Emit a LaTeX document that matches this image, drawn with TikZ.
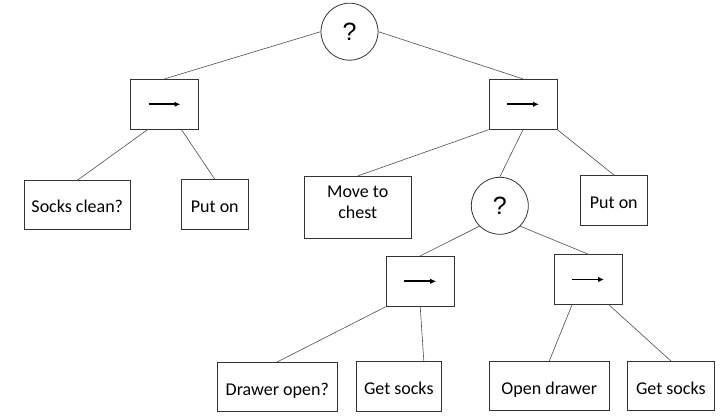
\documentclass[tikz,border=0pt]{standalone}
\usepackage{fontspec}
\usepackage{tikz}
\usetikzlibrary{arrows.meta}
\setmainfont{Carlito}
\newfontfamily\qfont{Liberation Sans}

\begin{document}
\begin{tikzpicture}[x=1pt, y=-1pt, font=\fontsize{18}{20.3}\selectfont,
    leaf/.style={draw=black!80, line width=0.8pt, inner sep=0pt, text height=16pt, text depth=0pt},
    seqbox/.style={leaf, minimum width=68pt, minimum height=50pt},
    fallback/.style={draw=black!80, line width=0.8pt, circle, inner sep=0pt, minimum size=57pt, font=\qfont\fontsize{25}{28}\selectfont},
    edge/.style={draw=black!70, line width=0.6pt},
    seqarrow/.style={line width=1.8pt, -{Latex[length=6pt, width=5.5pt]}}]
    \useasboundingbox (0, 0) rectangle (725, 419);

    \node (root) [fallback] at (349.5, 31.7) {?};
    \node (seqL) [seqbox] at (164.5, 104.3) {};
    \node (seqR) [seqbox] at (523, 104.3) {};

    \node (clean) [leaf, minimum width=106pt, minimum height=48.6pt] at (77.3, 205) {Socks clean?};
    \node (puton) [leaf, minimum width=67pt, minimum height=49.3pt] at (214.8, 204.3) {Put on};
    \node (chest) [leaf, align=center, text height=22.2pt, minimum width=106.7pt, minimum height=61.7pt] at (357.7, 207.2) {Move to\\chest};
    \node (fb) [fallback] at (499.8, 205.8) {?};
    \node (putonR) [leaf, minimum width=67pt, minimum height=50pt] at (613.8, 200.3) {Put on};

    \node (seqA) [seqbox] at (420.2, 281.3) {};
    \node (seqB) [seqbox] at (588, 279.5) {};

    \node (open) [leaf, minimum width=120pt, minimum height=49.4pt] at (277.3, 387) {Drawer open?};
    \node (getA) [leaf, minimum width=85.7pt, minimum height=50.3pt] at (398.8, 386.2) {Get socks};
    \node (opendr) [leaf, minimum width=120pt, minimum height=49.4pt] at (549.3, 386) {Open drawer};
    \node (getB) [leaf, minimum width=87pt, minimum height=49.4pt] at (670.8, 386) {Get socks};

    % sequence arrows
    \foreach \n in {seqL, seqR, seqA, seqB}
        \draw[seqarrow] ([xshift=-16pt]\n.center) -- ([xshift=16pt]\n.center);

    \draw[edge] (root.west) -- (seqL.north);
    \draw[edge] (root.east) -- (seqR.north);
    \draw[edge] ([xshift=-17pt]seqL.south) -- (clean.north);
    \draw[edge] ([xshift=17pt]seqL.south) -- (puton.north);
    \draw[edge] (seqR.south west) -- (chest.north);
    \draw[edge] (seqR.south) -- (fb.north);
    \draw[edge] (seqR.south east) -- (putonR.north);
    \draw[edge] (fb.225) -- (seqA.north);
    \draw[edge] (fb.-45) -- (seqB.north);
    \draw[edge] (seqA.south west) -- (open.north);
    \draw[edge] (seqA.south) -- ([xshift=25pt]getA.north);
    \draw[edge] ([xshift=-16pt]seqB.south) -- (opendr.north);
    \draw[edge] ([xshift=21pt]seqB.south) -- (getB.north);
\end{tikzpicture}
\end{document}
